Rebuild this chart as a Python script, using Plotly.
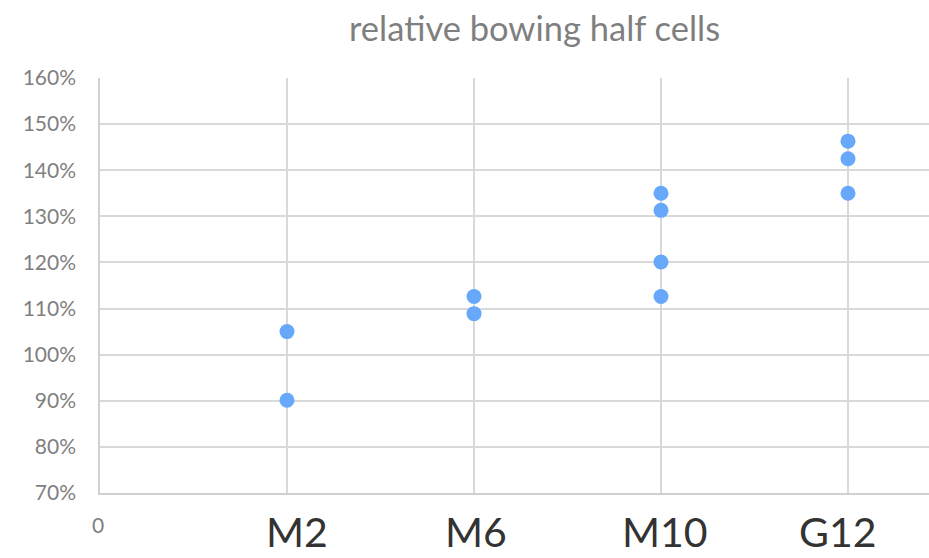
import plotly.graph_objects as go

categories = ["M2", "M6", "M10", "G12"]
cat_positions = [1, 2, 3, 4]
x_vals = [1, 1, 2, 2, 3, 3, 3, 3, 4, 4, 4]
y_vals = [105.0, 90.1, 112.6, 108.9, 135.0, 131.3, 120.1, 112.6, 146.3, 142.5, 135.0]
y_ticks = list(range(70, 161, 10))

W, H = 929, 558
L, R, T, B = 100, 0, 77.5, 65.3
PLOT_TOP, PLOT_BOT = T, H - B
PH = PLOT_BOT - PLOT_TOP


def py(ypx):
    return (PLOT_BOT - ypx) / PH


fig = go.Figure()
fig.add_trace(go.Scatter(
    x=x_vals, y=y_vals, mode="markers",
    marker=dict(size=15, color="#68A8FA", line=dict(width=0)),
    showlegend=False,
))

font_family = "Lato, Open Sans, sans-serif"

fig.update_layout(
    width=W, height=H,
    margin=dict(l=L, r=R, t=T, b=B),
    paper_bgcolor="white", plot_bgcolor="white",
    font=dict(family=font_family, color="#7f7f7f"),
    xaxis=dict(
        range=[0, (W - L) / 187.0], tick0=0, dtick=1,
        showgrid=True, gridcolor="#d9d9d9", gridwidth=1.5,
        showticklabels=False, zeroline=False,
        showline=True, linecolor="#d0d0d0", linewidth=1.5,
        fixedrange=True,
    ),
    yaxis=dict(
        range=[70, 160], tickvals=y_ticks, ticktext=[f"{v}%" for v in y_ticks],
        showgrid=True, gridcolor="#d9d9d9", gridwidth=1.5,
        zeroline=False, showline=True, linecolor="#d0d0d0", linewidth=1.5,
        tickfont=dict(size=21, color="#7f7f7f"),
        ticks="outside", ticklen=0, ticklabelstandoff=18,
        fixedrange=True,
    ),
)

annotations = [
    dict(text="relative bowing half cells", x=487 / W, xref="paper", y=py(27), yref="paper",
         xanchor="center", yanchor="middle", showarrow=False,
         font=dict(size=34.5, color="#7f7f7f", family=font_family)),
    dict(text="0", x=0, xref="x", y=py(524), yref="paper",
         xanchor="center", yanchor="middle", showarrow=False, xshift=-2,
         font=dict(size=21, color="#7f7f7f", family=font_family)),
]
shifts = [10, 1.5, 4, -10.5]
for cat, pos, sh in zip(categories, cat_positions, shifts):
    annotations.append(dict(
        text=cat, x=pos, xref="x", y=py(557.5), yref="paper",
        xanchor="center", yanchor="bottom", showarrow=False, xshift=sh,
        font=dict(size=41, color="#333333", family=font_family)))
fig.update_layout(annotations=annotations)

fig.write_html("out.html", config={"displayModeBar": False})
